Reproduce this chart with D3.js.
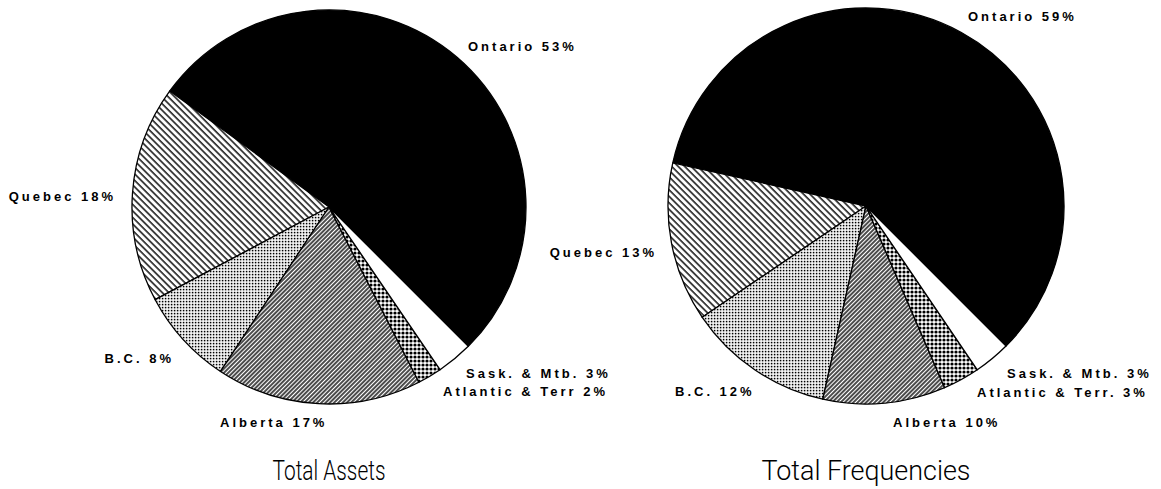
<!DOCTYPE html>
<html>
<head>
<meta charset="utf-8">
<script src="https://cdn.jsdelivr.net/npm/d3@7"></script>
<style>
  html, body { margin: 0; padding: 0; background: #fff; }
  svg { display: block; }
  .slice-label { font-family: "Liberation Sans", Arial, sans-serif; font-weight: bold; font-size: 13px; letter-spacing: 3px; fill: #000; }
  .pie-title { font-family: Roboto, "Liberation Sans", sans-serif; font-weight: 300; font-size: 27px; fill: #000; }
</style>
</head>
<body>
<script>
// regions, in the order the slices are laid out (counter-clockwise from Ontario)
const assetLabels = ['Ontario', 'Quebec', 'B.C.', 'Alberta', 'Atlantic & Terr', 'Sask. & Mtb.'];
const freqLabels = ['Ontario', 'Quebec', 'B.C.', 'Alberta', 'Atlantic & Terr.', 'Sask. & Mtb.'];
const assetShares = [53, 18, 8, 17, 2, 3];
const freqShares = [59, 13, 12, 10, 3, 3];
const titles = ['Total Assets', 'Total Frequencies'];

// fill per region (pattern ids defined below)
const fills = ['#000', 'url(#hatch-back)', 'url(#dots)', 'url(#hatch-fwd)', 'url(#mesh)', '#fff'];

// where each label sits (text x, baseline y, anchor)
const assetLabelPos = [
  [468, 51, 'start'], [116, 201, 'end'], [174, 363, 'end'],
  [220, 427, 'start'], [443, 396, 'start'], [466, 378, 'start']
];
const freqLabelPos = [
  [968, 21, 'start'], [657, 257, 'end'], [675, 396, 'start'],
  [893, 427, 'start'], [977, 397, 'start'], [1007, 378, 'start']
];

const width = 1161, height = 489;

const svg = d3.select('body').append('svg')
  .attr('width', width)
  .attr('height', height);

const defs = svg.append('defs');

// sparse "\" lines (Quebec)
defs.append('pattern')
  .attr('id', 'hatch-back')
  .attr('patternUnits', 'userSpaceOnUse')
  .attr('width', 4.6).attr('height', 10)
  .attr('patternTransform', 'rotate(-45)')
  .call(p => {
    p.append('rect').attr('width', 4.6).attr('height', 10).attr('fill', '#fff');
    p.append('line').attr('x1', 1).attr('x2', 1).attr('y1', 0).attr('y2', 10)
      .attr('stroke', '#000').attr('stroke-width', 1.4);
  });

// dense "/" lines (Alberta)
defs.append('pattern')
  .attr('id', 'hatch-fwd')
  .attr('patternUnits', 'userSpaceOnUse')
  .attr('width', 3).attr('height', 10)
  .attr('patternTransform', 'rotate(45)')
  .call(p => {
    p.append('rect').attr('width', 3).attr('height', 10).attr('fill', '#fff');
    p.append('line').attr('x1', 1).attr('x2', 1).attr('y1', 0).attr('y2', 10)
      .attr('stroke', '#000').attr('stroke-width', 1.4);
  });

// fine dots (B.C.)
defs.append('pattern')
  .attr('id', 'dots')
  .attr('patternUnits', 'userSpaceOnUse')
  .attr('width', 3).attr('height', 3)
  .call(p => {
    p.append('rect').attr('width', 3).attr('height', 3).attr('fill', '#fff');
    p.append('rect').attr('x', 0.8).attr('y', 0.8).attr('width', 1.6).attr('height', 1.6).attr('fill', '#000');
  });

// coarse checker dots (Atlantic)
defs.append('pattern')
  .attr('id', 'mesh')
  .attr('patternUnits', 'userSpaceOnUse')
  .attr('width', 4).attr('height', 4)
  .call(p => {
    p.append('rect').attr('width', 4).attr('height', 4).attr('fill', '#fff');
    p.append('circle').attr('cx', 2).attr('cy', 2).attr('r', 1.6).attr('fill', '#000');
  });

const pie = d3.pie()
  .sort(null)
  .value(d => d)
  .startAngle(Math.PI * 3 / 4)
  .endAngle(Math.PI * 3 / 4 - 2 * Math.PI);

const charts = [
  { cx: 329, cy: 207, r: 197, shares: assetShares, labels: assetLabels, pos: assetLabelPos, titleLen: 113 },
  { cx: 866, cy: 206, r: 198, shares: freqShares, labels: freqLabels, pos: freqLabelPos, titleLen: 209 }
];

charts.forEach((c, ci) => {
  const arc = d3.arc().innerRadius(0).outerRadius(c.r);

  const g = svg.append('g')
    .attr('transform', `translate(${c.cx},${c.cy})`);

  g.selectAll('path.slice')
    .data(pie(c.shares))
    .join('path')
    .attr('class', 'slice')
    .attr('d', arc)
    .attr('fill', (d, i) => fills[i])
    .attr('stroke', '#000')
    .attr('stroke-width', 1.3)
    .attr('stroke-linejoin', 'round');

  svg.selectAll(`text.lab-${ci}`)
    .data(c.shares)
    .join('text')
    .attr('class', `slice-label lab-${ci}`)
    .attr('x', (d, i) => c.pos[i][0])
    .attr('y', (d, i) => c.pos[i][1])
    .attr('text-anchor', (d, i) => c.pos[i][2])
    .text((d, i) => `${c.labels[i]} ${d}%`);

  svg.append('text')
    .attr('class', 'pie-title')
    .attr('x', c.cx)
    .attr('y', 480)
    .attr('text-anchor', 'middle')
    .attr('textLength', c.titleLen)
    .attr('lengthAdjust', 'spacingAndGlyphs')
    .text(titles[ci]);
});
</script>
</body>
</html>
